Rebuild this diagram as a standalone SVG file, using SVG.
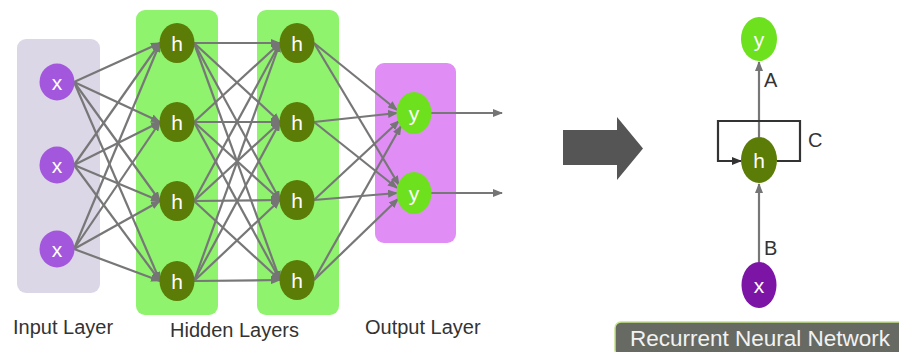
<svg xmlns="http://www.w3.org/2000/svg" width="899" height="352" viewBox="0 0 899 352">
<defs>
<marker id="ag" viewBox="0 0 10 8" refX="9" refY="4" markerWidth="10" markerHeight="8" markerUnits="userSpaceOnUse" orient="auto"><path d="M0,0 L10,4 L0,8 Z" fill="#757575"/></marker>
<marker id="ad" viewBox="0 0 10 8" refX="9" refY="4" markerWidth="10" markerHeight="8" markerUnits="userSpaceOnUse" orient="auto"><path d="M0,0 L10,4 L0,8 Z" fill="#333"/></marker>
</defs>
<style>
.lbl{font-family:"Liberation Sans",Arial,sans-serif;font-size:20px;fill:#333}
.nt{font-family:"Liberation Sans",Arial,sans-serif;font-size:21px;fill:#fff;text-anchor:middle;dominant-baseline:central}
.c{stroke:#777;stroke-width:2.2;fill:none;marker-end:url(#ag)}
.cd{stroke:#333;stroke-width:2.2;fill:none}
.xn{fill:#a257dc}
.hn{fill:#5b7c06}
.yn{fill:#6ee11f}
</style>
<rect width="899" height="352" fill="#fff"/>
<g id="panels">
<rect x="17" y="39" width="83" height="254" rx="9" fill="#dcd7e7"/>
<rect x="136" y="10" width="82" height="305" rx="9" fill="#8ff36e"/>
<rect x="257" y="10" width="82" height="305" rx="9" fill="#8ff36e"/>
<rect x="375" y="63" width="81" height="180" rx="9" fill="#e08ef6"/>
</g>
<g id="connectors">
<line class="c" x1="74" y1="82" x2="160" y2="43"/><line class="c" x1="74" y1="82" x2="160" y2="122"/><line class="c" x1="74" y1="82" x2="160" y2="201"/><line class="c" x1="74" y1="82" x2="160" y2="281"/>
<line class="c" x1="74" y1="165" x2="160" y2="43"/><line class="c" x1="74" y1="165" x2="160" y2="122"/><line class="c" x1="74" y1="165" x2="160" y2="201"/><line class="c" x1="74" y1="165" x2="160" y2="281"/>
<line class="c" x1="74" y1="249" x2="160" y2="43"/><line class="c" x1="74" y1="249" x2="160" y2="122"/><line class="c" x1="74" y1="249" x2="160" y2="201"/><line class="c" x1="74" y1="249" x2="160" y2="281"/>
<line class="c" x1="194" y1="43" x2="280" y2="43"/><line class="c" x1="194" y1="43" x2="280" y2="122"/><line class="c" x1="194" y1="43" x2="280" y2="200"/><line class="c" x1="194" y1="43" x2="280" y2="280"/>
<line class="c" x1="194" y1="122" x2="280" y2="43"/><line class="c" x1="194" y1="122" x2="280" y2="122"/><line class="c" x1="194" y1="122" x2="280" y2="200"/><line class="c" x1="194" y1="122" x2="280" y2="280"/>
<line class="c" x1="194" y1="201" x2="280" y2="43"/><line class="c" x1="194" y1="201" x2="280" y2="122"/><line class="c" x1="194" y1="201" x2="280" y2="200"/><line class="c" x1="194" y1="201" x2="280" y2="280"/>
<line class="c" x1="194" y1="281" x2="280" y2="43"/><line class="c" x1="194" y1="281" x2="280" y2="122"/><line class="c" x1="194" y1="281" x2="280" y2="200"/><line class="c" x1="194" y1="281" x2="280" y2="280"/>
<line class="c" x1="314" y1="43" x2="397" y2="110"/><line class="c" x1="314" y1="43" x2="399" y2="185"/>
<line class="c" x1="314" y1="122" x2="397" y2="113"/><line class="c" x1="314" y1="122" x2="397" y2="188"/>
<line class="c" x1="314" y1="200" x2="399" y2="121"/><line class="c" x1="314" y1="200" x2="397" y2="193"/>
<line class="c" x1="314" y1="280" x2="401" y2="126"/><line class="c" x1="314" y1="280" x2="398" y2="199"/>
<line class="c" x1="431" y1="113" x2="502" y2="113"/>
<line class="c" x1="431" y1="193" x2="502" y2="193"/>
<line class="c" x1="759" y1="262" x2="759" y2="184"/>
<line class="c" x1="759" y1="137" x2="759" y2="62"/>
<path class="cd" d="M777,161 H800 V121 H718 V161 H741" marker-end="url(#ad)"/>
</g>
<g id="input-nodes">
<g id="x1"><ellipse class="xn" cx="57" cy="82" rx="17.5" ry="18.5"/><text class="nt" x="57" y="82">x</text></g>
<g id="x2"><ellipse class="xn" cx="57" cy="165" rx="17.5" ry="18.5"/><text class="nt" x="57" y="165">x</text></g>
<g id="x3"><ellipse class="xn" cx="57" cy="249" rx="17.5" ry="18.5"/><text class="nt" x="57" y="249">x</text></g>
</g>
<g id="hidden1-nodes">
<g id="h11"><ellipse class="hn" cx="177" cy="43" rx="17.5" ry="20"/><text class="nt" x="177" y="43">h</text></g>
<g id="h12"><ellipse class="hn" cx="177" cy="122" rx="17.5" ry="20"/><text class="nt" x="177" y="122">h</text></g>
<g id="h13"><ellipse class="hn" cx="177" cy="201" rx="17.5" ry="20"/><text class="nt" x="177" y="201">h</text></g>
<g id="h14"><ellipse class="hn" cx="177" cy="281" rx="17.5" ry="20"/><text class="nt" x="177" y="281">h</text></g>
</g>
<g id="hidden2-nodes">
<g id="h21"><ellipse class="hn" cx="297" cy="43" rx="17.5" ry="20"/><text class="nt" x="297" y="43">h</text></g>
<g id="h22"><ellipse class="hn" cx="297" cy="122" rx="17.5" ry="20"/><text class="nt" x="297" y="122">h</text></g>
<g id="h23"><ellipse class="hn" cx="297" cy="200" rx="17.5" ry="20"/><text class="nt" x="297" y="200">h</text></g>
<g id="h24"><ellipse class="hn" cx="297" cy="280" rx="17.5" ry="20"/><text class="nt" x="297" y="280">h</text></g>
</g>
<g id="output-nodes">
<g id="y1"><ellipse class="yn" cx="414" cy="113" rx="17.5" ry="21"/><text class="nt" x="414" y="113">y</text></g>
<g id="y2"><ellipse class="yn" cx="414" cy="193" rx="17.5" ry="21"/><text class="nt" x="414" y="193">y</text></g>
</g>
<g id="layer-labels">
<text class="lbl" x="13" y="334">Input Layer</text>
<text class="lbl" x="170" y="337">Hidden Layers</text>
<text class="lbl" x="365" y="334">Output Layer</text>
</g>
<g id="big-arrow">
<path d="M563,130 H617 V117 L643,148.5 L617,180 V165 H563 Z" fill="#555"/>
</g>
<g id="rnn">
<g id="rnn-y"><ellipse class="yn" cx="759" cy="39" rx="18" ry="22"/><text class="nt" x="759" y="39">y</text></g>
<g id="rnn-h"><ellipse class="hn" cx="759" cy="160" rx="18" ry="23"/><text class="nt" x="759" y="160">h</text></g>
<g id="rnn-x"><ellipse fill="#7c14a6" cx="759" cy="285" rx="17.5" ry="23"/><text class="nt" x="759" y="285">x</text></g>
<text class="lbl" x="764" y="87">A</text>
<text class="lbl" x="764" y="255">B</text>
<text class="lbl" x="808" y="147">C</text>
</g>
<g id="banner">
<rect x="615" y="322" width="290" height="34" rx="6" fill="#676a63" stroke="#c6e38c" stroke-width="1.5"/>
<text x="760" y="346" font-family="Liberation Sans,Arial,sans-serif" font-size="22.5" fill="#f2f2f2" text-anchor="middle">Recurrent Neural Network</text>
</g>
</svg>
